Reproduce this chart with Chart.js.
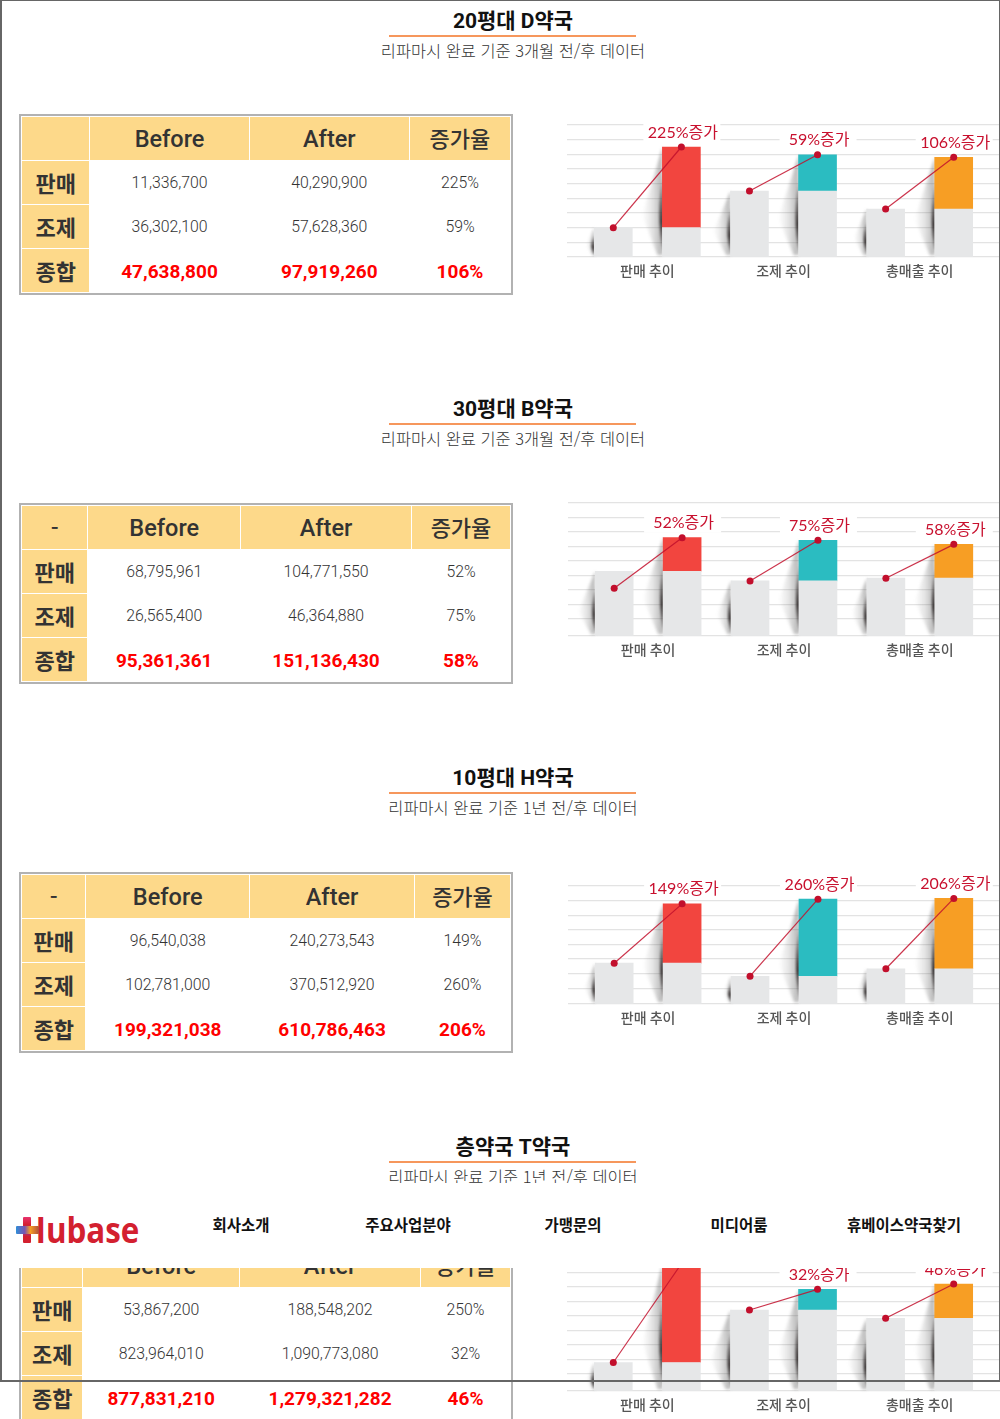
<!DOCTYPE html>
<html lang="ko"><head><meta charset="utf-8">
<script src="https://cdn.jsdelivr.net/npm/chart.js@4"></script>
<style>
html,body{margin:0;padding:0;background:#fff;}
#page{position:relative;width:1000px;height:1419px;overflow:hidden;background:#fff;font-family:Roboto,"Noto Sans CJK KR",sans-serif;}
.title{position:absolute;left:389px;width:248px;text-align:center;font:700 21px/28px Roboto,"Noto Sans CJK KR";color:#111;white-space:nowrap;}
.rule{position:absolute;left:389px;width:247px;height:2px;background:#f6975c;}
.sub{position:absolute;left:313px;width:400px;text-align:center;font:300 16.4px/22px "Noto Sans CJK KR";color:#333;white-space:nowrap;}
table{position:absolute;left:19px;width:494px;height:181px;box-sizing:border-box;table-layout:fixed;border:2px solid #b2b2b2;border-collapse:separate;border-spacing:1.5px;background:#fff;}
td,th{padding:0;text-align:center;white-space:nowrap;overflow:hidden;}
th{background:#fdd98a;color:#333;font:500 23.5px/1 Roboto,"Noto Sans CJK KR";padding-top:3px;}
th.kr{font:500 22px/1 "Noto Sans CJK KR";padding-top:0;padding-bottom:3px;}
th.row{font:700 22px/1 "Noto Sans CJK KR";padding-top:0;padding-bottom:1px;}
td{font:300 15.8px/1 Roboto;color:#333;padding-top:1px;}
td.sum{font:700 19px/1 Roboto;color:#ff0000;}
canvas{position:absolute;left:550px;}
#nav{position:absolute;left:0;top:1183px;width:1000px;height:85px;background:#fff;z-index:5;}
#nav span{position:absolute;top:29px;transform:translateX(-50%);font:700 15.5px/24px "Noto Sans CJK KR";color:#111;white-space:nowrap;}
#logo{position:absolute;left:22px;top:23px;font:700 36px/48px "Open Sans";color:#d3202f;transform-origin:left center;transform:scaleX(.87);}
.plus{position:absolute;border-radius:1px;}
.fr{position:absolute;background:#666;z-index:6;}
</style></head><body><div id="page"></div>
<script>
// ---- text ----
const panelTitles = ['20평대 D약국','30평대 B약국','10평대 H약국','층약국 T약국'];
const panelSubtitles = ['리파마시 완료 기준 3개월 전/후 데이터','리파마시 완료 기준 3개월 전/후 데이터','리파마시 완료 기준 1년 전/후 데이터','리파마시 완료 기준 1년 전/후 데이터'];
const cornerLabels = ['','-','-','-'];
const columnHeaders = ['Before','After','증가율'];
const rowNames = ['판매','조제','종합'];
const trendLabels = ['판매 추이','조제 추이','총매출 추이'];
const navItems = ['회사소개','주요사업분야','가맹문의','미디어룸','휴베이스약국찾기'];
const seriesNames = ['Before','After 기준','After 증가분'];
// ---- table values (one entry per pharmacy) ----
const salesBefore = [11336700,68795961,96540038,53867200];
const salesAfter  = [40290900,104771550,240273543,188548202];
const salesRate   = [225,52,149,250];
const rxBefore = [36302100,26565400,102781000,823964010];
const rxAfter  = [57628360,46364880,370512920,1090773080];
const rxRate   = [59,75,260,32];
const totalBefore = [47638800,95361361,199321038,877831210];
const totalAfter  = [97919260,151136430,610786463,1279321282];
const totalRate   = [106,58,206,46];
// ---- chart bar heights (grid-line units; sales, rx, total) ----
const barsBefore1 = [2.0,4.5,3.27];  const barsAfter1 = [7.5,6.97,6.8];   const lineStart1 = [2.0,4.5,3.27];
const barsBefore2 = [4.48,3.81,4.0]; const barsAfter2 = [6.8,6.62,6.34];  const lineStart2 = [3.31,3.81,4.0];
const barsBefore3 = [2.79,1.9,2.41]; const barsAfter3 = [6.85,7.17,7.22]; const lineStart3 = [2.79,1.9,2.41];
const barsBefore4 = [1.97,5.6,5.03]; const barsAfter4 = [8.8,7.03,7.4];   const lineStart4 = [1.97,5.6,5.03];
const gridLines1 = [0,1,2,3,4,5,6,7,8,9];
const gridLines2 = [0,1.2,2.2,3.2,4.2,5.2,6.2,7.2,8.2,9.2];
const gridLines3 = [0,1.07,2.07,3.07,4.07,5.07,6.07,7.07,8.07];
const gridLines4 = [0,1.2,2.2,3.2,4.2,5.2,6.2,7.2,8.2,9.2];

// ---- layout (not data) ----
const layout = [
 {title:7, table:114, cols:[67,157.5,158.5,99.5], axisTop:125, base:257, left:567, right:1000},
 {title:395, table:503, cols:[65,151,169,97.5], axisTop:503.3, base:636.3, left:568, right:999},
 {title:764, table:872, cols:[63,162,163,94.5], axisTop:885.7, base:1003.3, left:568, right:999},
 {title:1133, table:1241, cols:[60,155,179,88.5], axisTop:1257.9, base:1391.3, left:567, right:999}
];
const C = {gray:'#e6e7e8', up:['#f2453f','#2bbcc1','#f79e24'], line:'#c20f2c', grid:'#e3e3e3'};
const page = document.getElementById('page');
const fmt = n => n.toLocaleString('en-US');
function el(tag,cls,css,txt){const e=document.createElement(tag);if(cls)e.className=cls;if(css)e.style.cssText=css;if(txt!==undefined)e.textContent=txt;page.appendChild(e);return e;}

const shadowPlugin = {
 id:'shadow',
 beforeDatasetsDraw(ch){
  const c=ch.ctx, before=ch.getDatasetMeta(0).data, afterB=ch.getDatasetMeta(1).data, afterT=ch.getDatasetMeta(2).data;
  const draw=(L,top,bot)=>{
   const h=bot-top, w=Math.min(20,h*0.26), mid=top+h*0.62;
   c.save();
   c.filter='blur(1.5px)';
   let g=c.createLinearGradient(L-w,0,L,0);
   g.addColorStop(0,'rgba(90,90,90,0)');g.addColorStop(.5,'rgba(90,90,90,.16)');g.addColorStop(1,'rgba(90,90,90,.46)');
   c.fillStyle=g;c.beginPath();c.moveTo(L,top);c.lineTo(L-w,mid);c.lineTo(L-w*.25,bot-1);c.lineTo(L,bot-1);c.closePath();c.fill();
   c.filter='blur(.8px)';
   g=c.createLinearGradient(0,top+h*.2,0,bot);
   g.addColorStop(0,'rgba(50,45,45,0)');g.addColorStop(.6,'rgba(50,45,45,.95)');g.addColorStop(1,'rgba(50,45,45,.35)');
   c.fillStyle=g;c.beginPath();c.moveTo(L+1,top+h*.2);c.quadraticCurveTo(L-7,top+h*.62,L+1,bot);c.closePath();c.fill();
   c.restore();
  };
  before.forEach(b=>draw(b.x-b.width/2,b.y,b.base));
  afterB.forEach((b,i)=>draw(b.x-b.width/2,afterT[i].y,b.base));
 }
};
const rateLabelPlugin = {
 id:'rateLabels',
 beforeDatasetsDraw(ch,a,o){
  const c=ch.ctx; c.save(); c.fillStyle='#fff';
  ch.getDatasetMeta(2).data.forEach(b=>c.fillRect(b.x-38,b.y-25,77,20));
  c.restore();
 },
 afterDatasetsDraw(ch,a,o){
  const c=ch.ctx; c.save();
  c.font='16px Lato,"Noto Sans CJK KR"'; c.fillStyle='#c8102e'; c.textAlign='center'; c.textBaseline='middle';
  ch.getDatasetMeta(2).data.forEach((b,i)=>c.fillText(o.rates[i]+'%증가',b.x+1.5,b.y-14.5));
  c.restore();
 }
};

function makePanel(p,bb,ba,ls,gl){
 const L=layout[p];
 el('div','title','top:'+L.title+'px',panelTitles[p]);
 el('div','rule','top:'+(L.title+28)+'px');
 el('div','sub','top:'+(L.title+32)+'px',panelSubtitles[p]);
 // table
 const t=el('table','','top:'+L.table+'px');
 t.innerHTML='<colgroup>'+L.cols.map(w=>'<col style="width:'+w+'px">').join('')+'</colgroup>';
 const head=document.createElement('tr');
 [cornerLabels[p],...columnHeaders].forEach((h,i)=>{const th=document.createElement('th');th.textContent=h;if(i==3||i==0)th.className='kr';head.appendChild(th);});
 t.appendChild(head);
 const rows=[[salesBefore,salesAfter,salesRate],[rxBefore,rxAfter,rxRate],[totalBefore,totalAfter,totalRate]];
 rows.forEach((r,i)=>{
  const tr=document.createElement('tr');
  const th=document.createElement('th');th.className='row';th.textContent=rowNames[i];tr.appendChild(th);
  [fmt(r[0][p]),fmt(r[1][p]),r[2][p]+'%'].forEach(v=>{const td=document.createElement('td');td.textContent=v;if(i==2)td.className='sum';tr.appendChild(td);});
  t.appendChild(tr);
 });
 [...t.rows].forEach(r=>r.style.height='42.4px');
 // chart
 const pad=34, W=454, H=Math.round(L.base-L.axisTop)+pad+32;
 const cv=el('canvas','','top:'+(L.axisTop-pad)+'px;width:'+W+'px;height:'+H+'px');
 cv.width=W;cv.height=H;
 const rates=[salesRate[p],rxRate[p],totalRate[p]];
 const lines=trendLabels.map((_,i)=>({type:'line',label:trendLabels[i],order:0,data:[{x:i-.25,y:ls[i]},{x:i+.25,y:ba[i]}],
   borderColor:'rgba(194,15,44,.85)',borderWidth:1.2,pointRadius:3.5,pointBackgroundColor:C.line,pointBorderWidth:0,clip:false}));
 new Chart(cv,{type:'bar',
  data:{datasets:[
   {label:seriesNames[0],order:2,grouped:false,barThickness:38,backgroundColor:C.gray,data:bb.map((v,i)=>({x:i-.25,y:v}))},
   {label:seriesNames[1],order:2,grouped:false,barThickness:38,backgroundColor:C.gray,data:bb.map((v,i)=>({x:i+.25,y:v}))},
   {label:seriesNames[2],order:2,grouped:false,barThickness:38,backgroundColor:C.up,data:ba.map((v,i)=>({x:i+.25,y:[bb[i],v]}))},
   ...lines]},
  options:{responsive:false,animation:false,devicePixelRatio:1,
   layout:{padding:{left:L.left-550,right:1000-L.right,top:pad,bottom:0}},
   plugins:{legend:{display:false},tooltip:{enabled:false},rateLabels:{rates}},
   scales:{
    x:{type:'linear',offset:false,min:-.59,max:2.59,grid:{display:false,drawTicks:false},border:{display:false},
      afterBuildTicks:a=>{a.ticks=trendLabels.map((_,i)=>({value:i}));},
      afterFit:a=>{a.height=32;a.paddingLeft=0;a.paddingRight=0;a.getPadding=()=>({left:0,right:0,top:0,bottom:0});},
      ticks:{autoSkip:false,maxRotation:0,padding:5,color:'#555',font:{family:'"Noto Sans CJK KR"',size:14,weight:'500'},callback:v=>trendLabels[v]}},
    y:{min:0,max:gl[gl.length-1],border:{display:false},grid:{color:C.grid,lineWidth:1.3,drawTicks:false},
      afterBuildTicks:a=>{a.ticks=gl.map(v=>({value:v}));},
      afterFit:a=>{a.width=0;},
      ticks:{display:false}}
   }},
  plugins:[rateLabelPlugin,shadowPlugin]});
}
makePanel(0,barsBefore1,barsAfter1,lineStart1,gridLines1);
makePanel(1,barsBefore2,barsAfter2,lineStart2,gridLines2);
makePanel(2,barsBefore3,barsAfter3,lineStart3,gridLines3);
makePanel(3,barsBefore4,barsAfter4,lineStart4,gridLines4);

// sticky navigation bar that overlaps the last panel
const nav=el('div');nav.id='nav';
const logo=document.createElement('div');logo.id='logo';logo.textContent='Hubase';nav.appendChild(logo);
const v=document.createElement('div');v.className='plus';v.style.cssText='left:23px;top:34px;width:8px;height:26px;background:linear-gradient(#e8326e,#d3202f 30%,#8a3fa0 55%,#d3202f 75%)';nav.appendChild(v);
const h=document.createElement('div');h.className='plus';h.style.cssText='left:16px;top:43px;width:23px;height:8px;background:linear-gradient(90deg,#2f8fd8,#7a55b0 38%,#f79e24 62%,#b0503a)';nav.appendChild(h);
[241,408,573,739,904].forEach((x,i)=>{const s=document.createElement('span');s.style.left=x+'px';s.textContent=navItems[i];nav.appendChild(s);});
// screenshot frame
el('div','fr','left:0;top:0;width:2px;height:1381px');
el('div','fr','left:0;top:0;width:1000px;height:1px');
el('div','fr','left:999px;top:0;width:1px;height:1381px');
el('div','fr','left:0;top:1380px;width:1000px;height:1.5px');
</script></body></html>
